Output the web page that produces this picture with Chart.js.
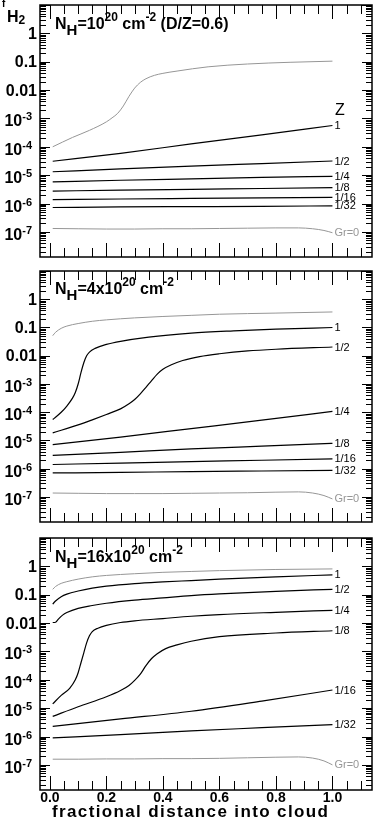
<!DOCTYPE html>
<html>
<head>
<meta charset="utf-8">
<script src="https://cdn.jsdelivr.net/npm/chart.js@4.4.0/dist/chart.umd.min.js"></script>
<style>
body{margin:0;background:#fff;width:378px;height:821px;position:relative;overflow:hidden}
canvas{position:absolute;left:0}
</style>
</head>
<body>
<canvas id="c1" style="top:0" width="378" height="265"></canvas>
<canvas id="c2" style="top:265px" width="378" height="265"></canvas>
<canvas id="c3" style="top:530px" width="378" height="291"></canvas>
<script>
// values are log10(f_H2)
var zLabels = ['1', '1/2', '1/4', '1/8', '1/16', '1/32'];
var xTickValues = [0, 0.2, 0.4, 0.6, 0.8, 1.0];
var xTickLabels = ['0.0', '0.2', '0.4', '0.6', '0.8', '1.0'];
var yTickValues = [1, 0.1, 0.01, 1e-3, 1e-4, 1e-5, 1e-6, 1e-7];
var yTickLabels = ['1', '0.1', '0.01', '10^-3', '10^-4', '10^-5', '10^-6', '10^-7'];

var lineX = [0.01, 0.25, 0.5, 0.75, 1.0];
var grX = [0.01, 0.1, 0.2, 0.3, 0.4, 0.5, 0.6, 0.7, 0.8, 0.88, 0.93, 0.97, 1.0];

// panel 1: N_H = 1e20
var p1TopX = [0.01, 0.08, 0.14, 0.2, 0.22, 0.24, 0.26, 0.28, 0.30, 0.32, 0.34, 0.37, 0.40, 0.45, 0.56, 0.7, 0.85, 1.0];
var p1Top = [-4.0, -3.67, -3.42, -3.12, -2.98, -2.82, -2.56, -2.22, -1.93, -1.73, -1.60, -1.48, -1.41, -1.33, -1.18, -1.08, -1.02, -0.98];
var p1Z1 = [-4.51, -4.23, -3.90, -3.58, -3.25];
var p1Z2 = [-4.88, -4.78, -4.68, -4.59, -4.50];
var p1Z4 = [-5.24, -5.18, -5.13, -5.08, -5.04];
var p1Z8 = [-5.56, -5.53, -5.50, -5.47, -5.44];
var p1Z16 = [-5.86, -5.84, -5.82, -5.80, -5.78];
var p1Z32 = [-6.14, -6.12, -6.11, -6.10, -6.08];
var p1Gr = [-6.88, -6.89, -6.90, -6.90, -6.89, -6.89, -6.88, -6.87, -6.86, -6.86, -6.89, -6.95, -7.03];

// panel 2: N_H = 4e20
var p2TopX = [0.01, 0.02, 0.04, 0.06, 0.1, 0.15, 0.2, 0.3, 0.4, 0.5, 0.6, 0.8, 1.0];
var p2Top = [-1.29, -1.17, -1.03, -0.95, -0.86, -0.78, -0.73, -0.66, -0.61, -0.57, -0.53, -0.49, -0.45];
var p2Z1X = [0.01, 0.04, 0.06, 0.08, 0.09, 0.1, 0.11, 0.12, 0.13, 0.14, 0.16, 0.2, 0.25, 0.35, 0.5, 0.65, 0.8, 1.0];
var p2Z1 = [-4.26, -4.0, -3.78, -3.5, -3.3, -3.0, -2.6, -2.25, -2.0, -1.87, -1.74, -1.6, -1.49, -1.34, -1.20, -1.12, -1.06, -1.0];
var p2Z2X = [0.01, 0.1, 0.15, 0.2, 0.25, 0.28, 0.3, 0.32, 0.34, 0.36, 0.38, 0.40, 0.43, 0.47, 0.53, 0.6, 0.7, 0.8, 1.0];
var p2Z2 = [-4.73, -4.45, -4.27, -4.08, -3.88, -3.7, -3.55, -3.35, -3.12, -2.88, -2.65, -2.48, -2.32, -2.17, -2.03, -1.93, -1.83, -1.77, -1.69];
var p2Z4 = [-5.15, -4.88, -4.58, -4.28, -3.97];
var p2Z8 = [-5.53, -5.42, -5.30, -5.20, -5.10];
var p2Z16 = [-5.85, -5.80, -5.75, -5.70, -5.65];
var p2Z32 = [-6.15, -6.13, -6.10, -6.08, -6.06];
var p2Gr = [-6.86, -6.87, -6.88, -6.88, -6.88, -6.87, -6.86, -6.85, -6.83, -6.82, -6.86, -6.95, -7.07];

// panel 3: N_H = 16e20
var p3TopX = [0.01, 0.02, 0.04, 0.06, 0.1, 0.15, 0.2, 0.3, 0.4, 0.5, 0.6, 0.8, 1.0];
var p3Top = [-0.81, -0.71, -0.60, -0.54, -0.45, -0.37, -0.32, -0.26, -0.21, -0.18, -0.15, -0.11, -0.09];
var p3Z1 = [-1.33, -1.22, -1.07, -0.98, -0.87, -0.77, -0.70, -0.61, -0.55, -0.50, -0.45, -0.37, -0.30];
var p3Z2X = [0.01, 0.02, 0.03, 0.045, 0.06, 0.1, 0.15, 0.2, 0.3, 0.4, 0.5, 0.6, 0.8, 1.0];
var p3Z2 = [-1.98, -1.97, -1.86, -1.72, -1.63, -1.48, -1.38, -1.30, -1.19, -1.11, -1.03, -0.97, -0.88, -0.81];
var p3Z4X = [0.01, 0.04, 0.07, 0.09, 0.1, 0.11, 0.12, 0.13, 0.14, 0.15, 0.17, 0.2, 0.25, 0.3, 0.4, 0.5, 0.6, 0.8, 1.0];
var p3Z4 = [-4.85, -4.55, -4.3, -4.0, -3.75, -3.4, -3.05, -2.7, -2.45, -2.3, -2.18, -2.08, -1.98, -1.92, -1.84, -1.76, -1.70, -1.62, -1.55];
var p3Z8X = [0.01, 0.1, 0.2, 0.25, 0.28, 0.3, 0.32, 0.34, 0.36, 0.38, 0.41, 0.45, 0.5, 0.6, 0.8, 1.0];
var p3Z8 = [-5.29, -4.95, -4.6, -4.38, -4.2, -4.02, -3.8, -3.5, -3.25, -3.08, -2.9, -2.77, -2.64, -2.48, -2.35, -2.27];
var p3Z16 = [-5.64, -5.38, -5.11, -4.75, -4.36];
var p3Z32 = [-6.05, -5.93, -5.80, -5.69, -5.58];
var p3Gr = [-6.80, -6.80, -6.79, -6.79, -6.78, -6.78, -6.77, -6.75, -6.73, -6.72, -6.76, -6.86, -7.0];

var GRAY = '#969696';
var FONT = '"Liberation Sans", Arial, sans-serif';

function series(xs, logs, color, label) {
    return {
        label: label,
        data: xs.map(function (x, i) { return {x: x, y: Math.pow(10, logs[i])}; }),
        borderColor: color,
        borderWidth: color == GRAY ? 1 : 1.2,
        pointRadius: 0,
        fill: false,
        cubicInterpolationMode: 'monotone'
    };
}

// draws pieces of text one after another: [text, size, dy, weight]
function rich(ctx, x, y, parts) {
    parts.forEach(function (p) {
        ctx.font = (p[3] || 'bold') + ' ' + p[1] + 'px ' + FONT;
        ctx.fillText(p[0], x, y + p[2]);
        x += ctx.measureText(p[0]).width;
    });
    return x;
}
function richWidth(ctx, parts) {
    var w = 0;
    parts.forEach(function (p) {
        ctx.font = (p[3] || 'bold') + ' ' + p[1] + 'px ' + FONT;
        w += ctx.measureText(p[0]).width;
    });
    return w;
}

var framePlugin = {
    id: 'frame',
    afterDraw: function (chart) {
        var ctx = chart.ctx, a = chart.chartArea;
        var xs = chart.scales.x, ys = chart.scales.y;
        var o = chart.options.plugins.frame;
        ctx.save();
        ctx.strokeStyle = '#000';
        ctx.fillStyle = '#000';

        // y ticks, both sides, pointing in
        ctx.lineWidth = 1;
        ctx.beginPath();
        for (var k = -8; k <= 1; k++) {
            for (var m = 1; m <= 9; m++) {
                var v = m * Math.pow(10, k);
                if (v < ys.min || v > ys.max) continue;
                var py = Math.round(ys.getPixelForValue(v)) + 0.5;
                var len = m == 1 ? 10 : 6;
                ctx.moveTo(a.left, py); ctx.lineTo(a.left + len, py);
                ctx.moveTo(a.right, py); ctx.lineTo(a.right - len, py);
            }
        }
        // x ticks, top and bottom
        for (var i = 0; i <= 22; i++) {
            var px = Math.round(xs.getPixelForValue(i * 0.05)) + 0.5;
            var tl = i % 4 == 0 ? 14 : 9;
            ctx.moveTo(px, a.bottom); ctx.lineTo(px, a.bottom - tl);
            ctx.moveTo(px, a.top); ctx.lineTo(px, a.top + tl);
        }
        ctx.stroke();

        ctx.lineWidth = 1.5;
        ctx.strokeRect(a.left, a.top, a.right - a.left, a.bottom - a.top);

        // y tick labels
        ctx.textBaseline = 'alphabetic';
        yTickValues.forEach(function (v, i) {
            var py = ys.getPixelForValue(v);
            var lab = yTickLabels[i];
            if (lab.indexOf('^') > 0) {
                var sp = lab.split('^');
                var parts = [[sp[0], 16, 0], [sp[1], 11, -6]];
                var w = richWidth(ctx, parts);
                ctx.textAlign = 'left';
                rich(ctx, 32 - w, py + 8, parts);
            } else {
                ctx.font = 'bold 16px ' + FONT;
                ctx.textAlign = 'right';
                ctx.fillText(lab, 37, py + 5.5);
            }
        });

        // x tick labels + title on the bottom panel
        if (o.xLabels) {
            ctx.textAlign = 'center';
            ctx.font = 'bold 14px ' + FONT;
            xTickValues.forEach(function (v, i) {
                ctx.fillText(xTickLabels[i], xs.getPixelForValue(v), a.bottom + 12);
            });
            var t = 'fractional distance into cloud';
            ctx.font = 'bold 17px ' + FONT;
            var w0 = ctx.measureText(t).width;
            ctx.letterSpacing = Math.max(0, (276 - w0) / (t.length - 1)).toFixed(2) + 'px';
            ctx.textAlign = 'left';
            ctx.fillText(t, 52, a.bottom + 27);
            ctx.letterSpacing = '0px';
        }

        // panel title
        ctx.textAlign = 'left';
        rich(ctx, 55, o.titleY, o.title);

        // labels at the end of each curve
        ctx.font = '11px ' + FONT;
        ctx.textBaseline = 'middle';
        chart.data.datasets.forEach(function (ds, di) {
            if (!ds.label) return;
            var meta = chart.getDatasetMeta(di);
            var last = meta.data[meta.data.length - 1];
            ctx.fillStyle = ds.borderColor;
            ctx.fillText(ds.label, last.x + 2, last.y + 0.5);
        });
        if (o.zHead) {
            ctx.fillStyle = '#000';
            ctx.font = '16px ' + FONT;
            ctx.textBaseline = 'alphabetic';
            ctx.fillText('Z', 335, o.zHead);
        }
        if (o.fh2) {
            ctx.fillStyle = '#000';
            ctx.textBaseline = 'alphabetic';
            rich(ctx, 2, 7, [['f', 10, 0]]);
            rich(ctx, 7, 21.5, [['H', 16, 0], ['2', 12, 2]]);
        }
        ctx.restore();
    }
};

function panel(id, padTop, padBottom, datasets, opts) {
    return new Chart(document.getElementById(id), {
        type: 'line',
        data: {datasets: datasets},
        options: {
            responsive: false,
            animation: false,
            devicePixelRatio: 1,
            layout: {padding: {left: 40, right: 6, top: padTop, bottom: padBottom}},
            plugins: {legend: {display: false}, tooltip: {enabled: false}, frame: opts},
            scales: {
                x: {type: 'linear', min: -0.035, max: 1.14, display: false},
                y: {type: 'logarithmic', min: 1.3e-8, max: 10, display: false}
            }
        },
        plugins: [framePlugin]
    });
}

panel('c1', 5, 8, [
    series(p1TopX, p1Top, GRAY, ''),
    series(lineX, p1Z1, '#000', zLabels[0]),
    series(lineX, p1Z2, '#000', zLabels[1]),
    series(lineX, p1Z4, '#000', zLabels[2]),
    series(lineX, p1Z8, '#000', zLabels[3]),
    series(lineX, p1Z16, '#000', zLabels[4]),
    series(lineX, p1Z32, '#000', zLabels[5]),
    series(grX, p1Gr, GRAY, 'Gr=0')
], {
    titleY: 29,
    title: [['N', 16, 0], ['H', 15, 6], ['=10', 16, 0], ['20', 12, -8], [' cm', 16, 0], ['-2', 12, -8], [' (D/Z=0.6)', 16, 0]],
    zHead: 115, fh2: true
});

panel('c2', 6, 8, [
    series(p2TopX, p2Top, GRAY, ''),
    series(p2Z1X, p2Z1, '#000', zLabels[0]),
    series(p2Z2X, p2Z2, '#000', zLabels[1]),
    series(lineX, p2Z4, '#000', zLabels[2]),
    series(lineX, p2Z8, '#000', zLabels[3]),
    series(lineX, p2Z16, '#000', zLabels[4]),
    series(lineX, p2Z32, '#000', zLabels[5]),
    series(grX, p2Gr, GRAY, 'Gr=0')
], {
    titleY: 29,
    title: [['N', 16, 0], ['H', 15, 6], ['=4x10', 16, 0], ['20', 12, -8], [' cm', 16, 0], ['-2', 12, -8]]
});

panel('c3', 8, 31, [
    series(p3TopX, p3Top, GRAY, ''),
    series(p3TopX, p3Z1, '#000', zLabels[0]),
    series(p3Z2X, p3Z2, '#000', zLabels[1]),
    series(p3Z4X, p3Z4, '#000', zLabels[2]),
    series(p3Z8X, p3Z8, '#000', zLabels[3]),
    series(lineX, p3Z16, '#000', zLabels[4]),
    series(lineX, p3Z32, '#000', zLabels[5]),
    series(grX, p3Gr, GRAY, 'Gr=0')
], {
    titleY: 31.5,
    title: [['N', 16, 0], ['H', 15, 6], ['=16x10', 16, 0], ['20', 12, -8], [' cm', 16, 0], ['-2', 12, -8]],
    xLabels: true
});
</script>
</body>
</html>
